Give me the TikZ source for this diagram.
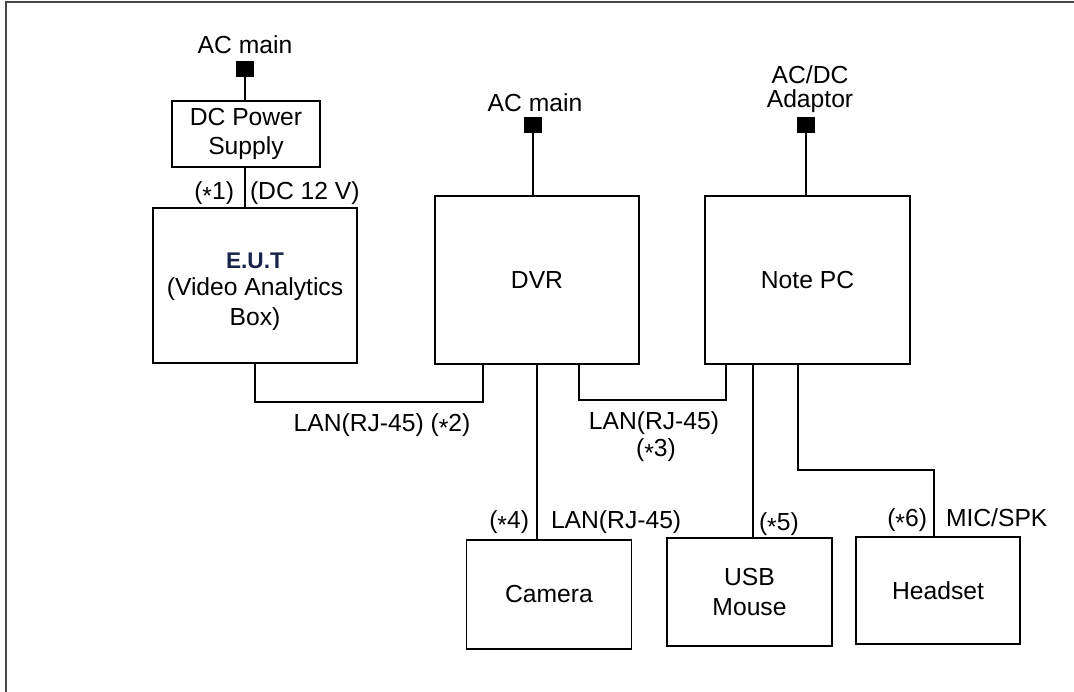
\documentclass[tikz,border=0pt]{standalone}
\usepackage{fontspec}
\setmainfont{Liberation Sans}
\newcommand{\lowstar}{\raisebox{-0.45ex}{*}}
\definecolor{eutcol}{RGB}{25,35,75}
\definecolor{framecol}{RGB}{70,70,70}
\begin{document}
\begin{tikzpicture}[x=0.75pt,y=-0.75pt,
  line width=1.2pt,
  every node/.style={inner sep=0pt,outer sep=0pt,font=\fontsize{18.5}{22}\selectfont},
  plug/.style={draw,fill=black,minimum width=13pt,minimum height=11pt},
  unit/.style={draw,align=center},
  lbl/.style={text height=13pt,text depth=4pt,align=center}]
\useasboundingbox (0,0) rectangle (1074,692);
% frame (top and left edges visible)
\draw[framecol,line width=1.6pt] (6,692) -- (6,2) -- (1074,2);

% power sources
\node[plug] (acL) at (245,69) {};
\node[plug] (acD) at (533,125) {};
\node[plug] (acN) at (806,125) {};
\node[lbl] (tacL) at (245,48) {AC main};
\node[lbl] (tacD) at (535,105) {AC main};
\node[lbl] (tacN) at (810,78) {AC/DC};
\node[lbl] (tacN2) at (810,102) {Adaptor};

% units
\node[unit,minimum width=111pt,minimum height=49.5pt] (dcps) at (246,134) {DC Power\\Supply};
\node[unit,minimum width=153pt,minimum height=116pt] (eut) at (255,285.5) {};
\node[align=center] (eutlbl) at (255,292)
  {{\fontsize{17}{22}\selectfont\bfseries\color{eutcol}E.U.T}\\[-2pt](Video Analytics\\[1pt]Box)};
\node[unit,minimum width=153pt,minimum height=126pt] (dvr) at (537,280) {DVR};
\node[unit,minimum width=153.75pt,minimum height=126pt] (note) at (807.5,280) {Note PC};
\node[unit,minimum width=123.75pt,minimum height=81.75pt] (cam) at (549,594.5) {Camera};
\node[unit,minimum width=123.75pt,minimum height=81pt] (mouse) at (749.5,592) {USB\\[1pt]Mouse};
\node[unit,minimum width=123pt,minimum height=80.25pt] (hs) at (938,590.5) {Headset};

% corner points
\coordinate (j1) at (483,402);
\coordinate (j2a) at (579,400);
\coordinate (j2b) at (726,400);
\coordinate (mx) at (753,0);
\coordinate (h1) at (798,470);
\coordinate (h2) at (934,470);

% connectors
\draw (acL.south) -- (acL.south |- dcps.north);
\draw (acL.south |- dcps.south) -- (acL.south |- eut.north);
\draw (acD.south) -- (acD.south |- dvr.north);
\draw (acN.south) -- (acN.south |- note.north);
\draw (eut.south) |- (j1) -- (j1 |- dvr.south);
\draw (j2a |- dvr.south) -- (j2a) -- (j2b) -- (j2b |- note.south);
\draw (dvr.south) -- (dvr.south |- cam.north);
\draw (mx |- note.south) -- (mx |- mouse.north);
\draw (h1 |- note.south) -- (h1) -- (h2) -- (h2 |- hs.north);

% labels
\node[lbl,anchor=east] (l1) at (234,193) {(\lowstar1)};
\node[lbl,anchor=west] (l1b) at (250,193) {(DC 12 V)};
\node[lbl] (l2) at (382,425) {LAN(RJ-45) (\lowstar2)};
\node[lbl] (l3) at (654,423) {LAN(RJ-45)};
\node[lbl] (l3b) at (656,450) {(\lowstar3)};
\node[lbl,anchor=east] (l4) at (529,522) {(\lowstar4)};
\node[lbl,anchor=west] (l4b) at (551,522) {LAN(RJ-45)};
\node[lbl,anchor=west] (l5) at (759,524) {(\lowstar5)};
\node[lbl,anchor=east] (l6) at (927,520) {(\lowstar6)};
\node[lbl,anchor=west] (l6b) at (946,520) {MIC/SPK};
\end{tikzpicture}
\end{document}
